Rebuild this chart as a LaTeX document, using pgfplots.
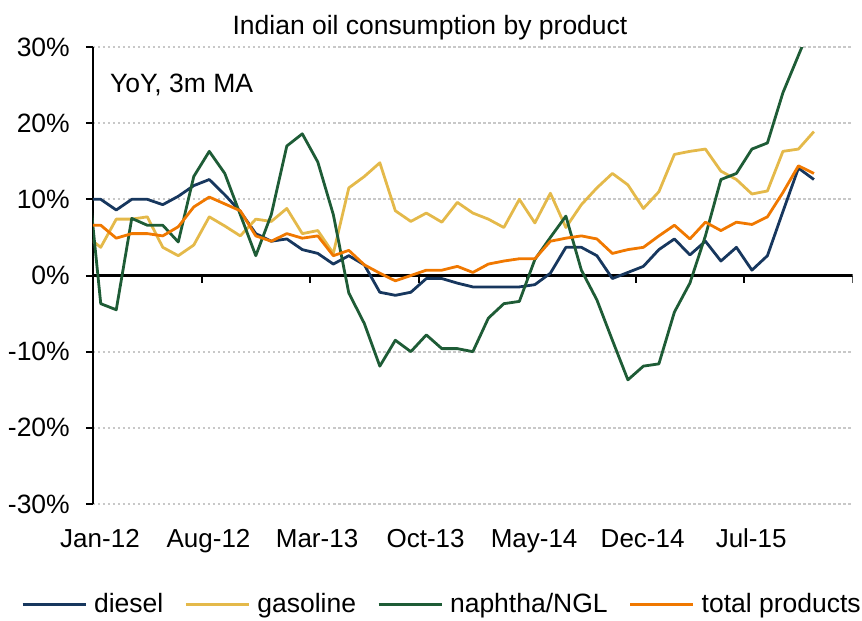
\documentclass[border=0pt]{standalone}
\usepackage{fontspec}
\setmainfont{Liberation Sans}
\usepackage{pgfplots}
\pgfplotsset{compat=1.18}
\usepackage{pgfplotstable}

\definecolor{cdiesel}{RGB}{23,55,94}
\definecolor{cgas}{RGB}{228,185,74}
\definecolor{cnaph}{RGB}{30,92,54}
\definecolor{ctot}{RGB}{240,120,0}
\definecolor{cgrid}{RGB}{200,200,200}

% x = months since 1 Jan 2012 (points at mid-month)
\pgfplotstableread{
x diesel gasoline naphtha total
-0.5 10.0 5.3 16.5 6.6
0.5 10.0 3.7 -3.7 6.6
1.5 8.6 7.4 -4.5 4.9
2.5 10.0 7.4 7.5 5.5
3.5 10.0 7.7 6.6 5.5
4.5 9.3 3.7 6.6 5.2
5.5 10.4 2.6 4.4 6.4
6.5 11.8 4.0 13.0 9.0
7.5 12.6 7.7 16.3 10.3
8.5 10.6 6.5 13.4 9.4
9.5 8.4 5.2 8.0 8.5
10.5 5.5 7.4 2.6 5.2
11.5 4.5 7.1 8.0 4.5
12.5 4.8 8.8 17.0 5.5
13.5 3.4 5.5 18.6 4.9
14.5 2.9 5.9 14.9 5.2
15.5 1.5 2.9 8.0 2.6
16.5 2.6 11.5 -2.3 3.3
17.5 1.4 13.0 -6.3 1.4
18.5 -2.2 14.8 -11.9 0.3
19.5 -2.6 8.5 -8.5 -0.7
20.5 -2.2 7.1 -10.0 0.0
21.5 -0.4 8.2 -7.8 0.7
22.5 -0.4 7.0 -9.6 0.7
23.5 -1.0 9.6 -9.6 1.2
24.5 -1.5 8.2 -10.0 0.4
25.5 -1.5 7.4 -5.6 1.5
26.5 -1.5 6.3 -3.7 1.9
27.5 -1.5 10.0 -3.4 2.2
28.5 -1.2 6.9 2.1 2.2
29.5 0.3 10.8 5.0 4.5
30.5 3.7 6.3 7.8 4.9
31.5 3.7 9.3 0.7 5.2
32.5 2.6 11.5 -3.2 4.8
33.5 -0.4 13.4 -8.5 2.9
34.5 0.4 11.9 -13.7 3.4
35.5 1.2 8.8 -11.9 3.7
36.5 3.4 11.0 -11.6 5.2
37.5 4.8 15.9 -4.8 6.6
38.5 2.7 16.3 -1.0 4.8
39.5 4.5 16.6 5.2 7.0
40.5 1.9 13.7 12.6 5.9
41.5 3.7 12.6 13.4 7.0
42.5 0.7 10.7 16.6 6.7
43.5 2.6 11.1 17.4 7.7
44.5 8.4 16.3 24.0 10.9
45.5 14.1 16.6 28.9 14.4
46.5 12.6 18.9 33.8 13.4
}\datatable

\begin{document}
\begin{tikzpicture}
\useasboundingbox (-93bp,-117bp) rectangle (769bp,504bp);
\begin{axis}[
  name=ax,
  at={(0,0)}, anchor=south west,
  scale only axis, width=759.7bp, height=457bp,
  xmin=0, xmax=49, ymin=-30, ymax=30,
  axis lines*=left,
  x axis line style={draw=none},
  y axis line style={line width=2.5bp, black},
  xtick={0,7,...,49},
  xticklabels={Jan-12,Aug-12,Mar-13,Oct-13,May-14,Dec-14,Jul-15,{}},
  xtick style={draw=none},
  ytick={-30,-20,...,30},
  yticklabels={-30\%,-20\%,-10\%,0\%,10\%,20\%,30\%},
  ytick style={line width=2bp, black},
  tick align=outside,
  major tick length=7bp,
  ymajorgrids,
  grid style={cgrid, line width=2bp, dash pattern=on 2.5bp off 2.5bp},
  yticklabel style={font=\fontsize{26.5bp}{30bp}\selectfont, anchor=east, inner sep=0pt, xshift=-16bp},
  xticklabel style={font=\fontsize{26bp}{30bp}\selectfont, anchor=base, inner sep=0pt, yshift=-36bp, xshift=7bp},
  legend style={at={(0.458,-0.219)}, anchor=center, draw=none, fill=none,
    legend columns=4, font=\fontsize{26.5bp}{30bp}\selectfont,
    nodes={inner sep=0pt},
    /tikz/every odd column/.append style={column sep=7bp},
    /tikz/every even column/.append style={column sep=21bp}},
  legend image post style={line width=3bp},
  legend image code/.code={\draw[#1, line width=3bp] (0bp,0bp) -- (63bp,0bp);},
  every axis plot/.append style={line width=2.8bp, line join=round},
]
\draw[black, line width=3bp] (axis cs:0,0) -- (axis cs:49,0);
\pgfplotsinvokeforeach{7,14,21,28,35,42,49}{\draw[black, line width=2bp] (axis cs:#1,0) -- ++(0bp,-7bp);}
\addplot[cdiesel] table[x=x, y=diesel] {\datatable};
\addlegendentry{diesel}
\addplot[cgas] table[x=x, y=gasoline] {\datatable};
\addlegendentry{gasoline}
\addplot[cnaph] table[x=x, y=naphtha] {\datatable};
\addlegendentry{naphtha/NGL}
\addplot[ctot] table[x=x, y=total] {\datatable};
\addlegendentry{total products}
\end{axis}
\node[anchor=base, font=\fontsize{26.5bp}{30bp}\selectfont, inner sep=0pt] at (337bp,469bp) {Indian oil consumption by product};
\node[anchor=base west, font=\fontsize{26.5bp}{30bp}\selectfont, inner sep=0pt] at (17bp,411.3bp) {YoY, 3m MA};
\end{tikzpicture}
\end{document}
